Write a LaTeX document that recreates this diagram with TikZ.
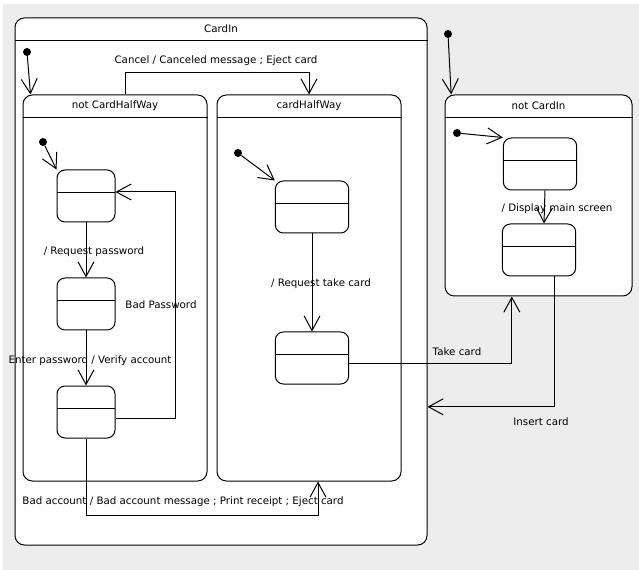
\documentclass[tikz,border=0pt]{standalone}
\usepackage{fontspec}
\setmainfont{DejaVu Sans}
\usetikzlibrary{arrows.meta, fit, calc}

\tikzset{
  composite/.style = {draw, fill=white, rounded corners=7pt, inner sep=0pt, line width=0.75pt},
  title/.style = {anchor=north, minimum height=17pt, inner sep=0pt},
  state/.style = {draw, fill=white, rounded corners=6pt, minimum height=39pt, line width=0.75pt,
    path picture={\draw ($(path picture bounding box.north west)!0.43!(path picture bounding box.south west)$)
      -- ($(path picture bounding box.north east)!0.43!(path picture bounding box.south east)$);}},
  narrow/.style = {state, minimum width=43.5pt},
  wide/.style = {state, minimum width=55pt},
  initial/.style = {circle, fill, inner sep=0pt, minimum size=6pt},
  trans/.style = {line width=0.75pt, -{Straight Barb[length=11pt, width=12pt]}},
  lbl/.style = {inner sep=1pt}
}

\begin{document}
\begin{tikzpicture}[x=0.75pt, y=-0.75pt, font=\fontsize{7.7}{9}\selectfont]
\useasboundingbox (0,0) rectangle (639,570);
\fill[black!7] (3,4) rectangle (639,570);

% composite states
\node[composite, fit={(15,18) (427,545)}] (cardin) {};
\node[title] (cardinT) at (cardin.north) {CardIn};
\draw[line width=0.75pt] (cardin.west |- cardinT.south) -- (cardin.east |- cardinT.south);

\node[composite, fit={(23,95) (207,481)}] (ncw) {};
\node[title] (ncwT) at (ncw.north) {not CardHalfWay};
\draw[line width=0.75pt] (ncw.west |- ncwT.south) -- (ncw.east |- ncwT.south);

\node[composite, fit={(217,95) (401,481)}] (chw) {};
\node[title] (chwT) at (chw.north) {cardHalfWay};
\draw[line width=0.75pt] (chw.west |- chwT.south) -- (chw.east |- chwT.south);

\node[composite, fit={(445,95) (632,296)}] (nci) {};
\node[title] (nciT) at (nci.north) {not CardIn};
\draw[line width=0.75pt] (nci.west |- nciT.south) -- (nci.east |- nciT.south);

% simple states
\node[narrow] (a) at (86,196) {};
\node[narrow] (b) at (86,304) {};
\node[narrow] (c) at (86,412) {};
\node[wide] (d) at (312,207) {};
\node[wide] (e) at (312,358) {};
\node[wide] (f) at (540,164) {};
\node[wide] (g) at (539,250) {};

% initial pseudostates
\node[initial] (i1) at (27,52) {};
\node[initial] (i2) at (43,142) {};
\node[initial] (i3) at (238,153) {};
\node[initial] (i4) at (448,34) {};
\node[initial] (i5) at (457,133) {};

\draw[trans] (i1) -- ([xshift=6pt]ncw.north west);
\draw[trans] (i2) -- (a.north west);
\draw[trans] (i3) -- (d.north west);
\draw[trans] (i4) -- ([xshift=5pt]nci.north west);
\draw[trans] (i5) -- (f.north west);

% transitions
\draw[trans] ([xshift=7.5pt]ncw.north) -- ++(0,-22) -| (chw.north);
\draw[trans] (a) -- (b);
\draw[trans] (b) -- (c);
\draw[trans] ([yshift=-4.5pt]c.east) -- ++(60,0) |- ([yshift=3pt]a.east);
\draw[trans] (c.south) -- ++(0,77) -| ([xshift=6.75pt]chw.south);
\draw[trans] (d) -- (e);
\draw[trans] ([yshift=-4pt]e.east) -| ([xshift=-20pt]nci.south);
\draw[trans] ([xshift=3.75pt]f.south) -- ([xshift=3.75pt]g.north);
\draw[trans] ([xshift=11.25pt]g.south) |- ([yshift=-94pt]cardin.east);

% labels
\node[lbl] (cancelL) at (216,61) {Cancel / Canceled message ; Eject card};
\node[lbl] (reqpwL) at (94,252) {/ Request password};
\node[lbl] (badpwL) at (161,305) {Bad Password};
\node[lbl] (enterL) at (90,361) {Enter password / Verify account};
\node[lbl] (badaccL) at (183,502) {Bad account / Bad account message ; Print receipt ; Eject card};
\node[lbl] (reqtakeL) at (321,284) {/ Request take card};
\node[lbl] (takeL) at (457,352) {Take card};
\node[lbl] (insertL) at (541,422) {Insert card};
\node[lbl] (displayL) at (557,209) {/ Display main screen};
\end{tikzpicture}
\end{document}
